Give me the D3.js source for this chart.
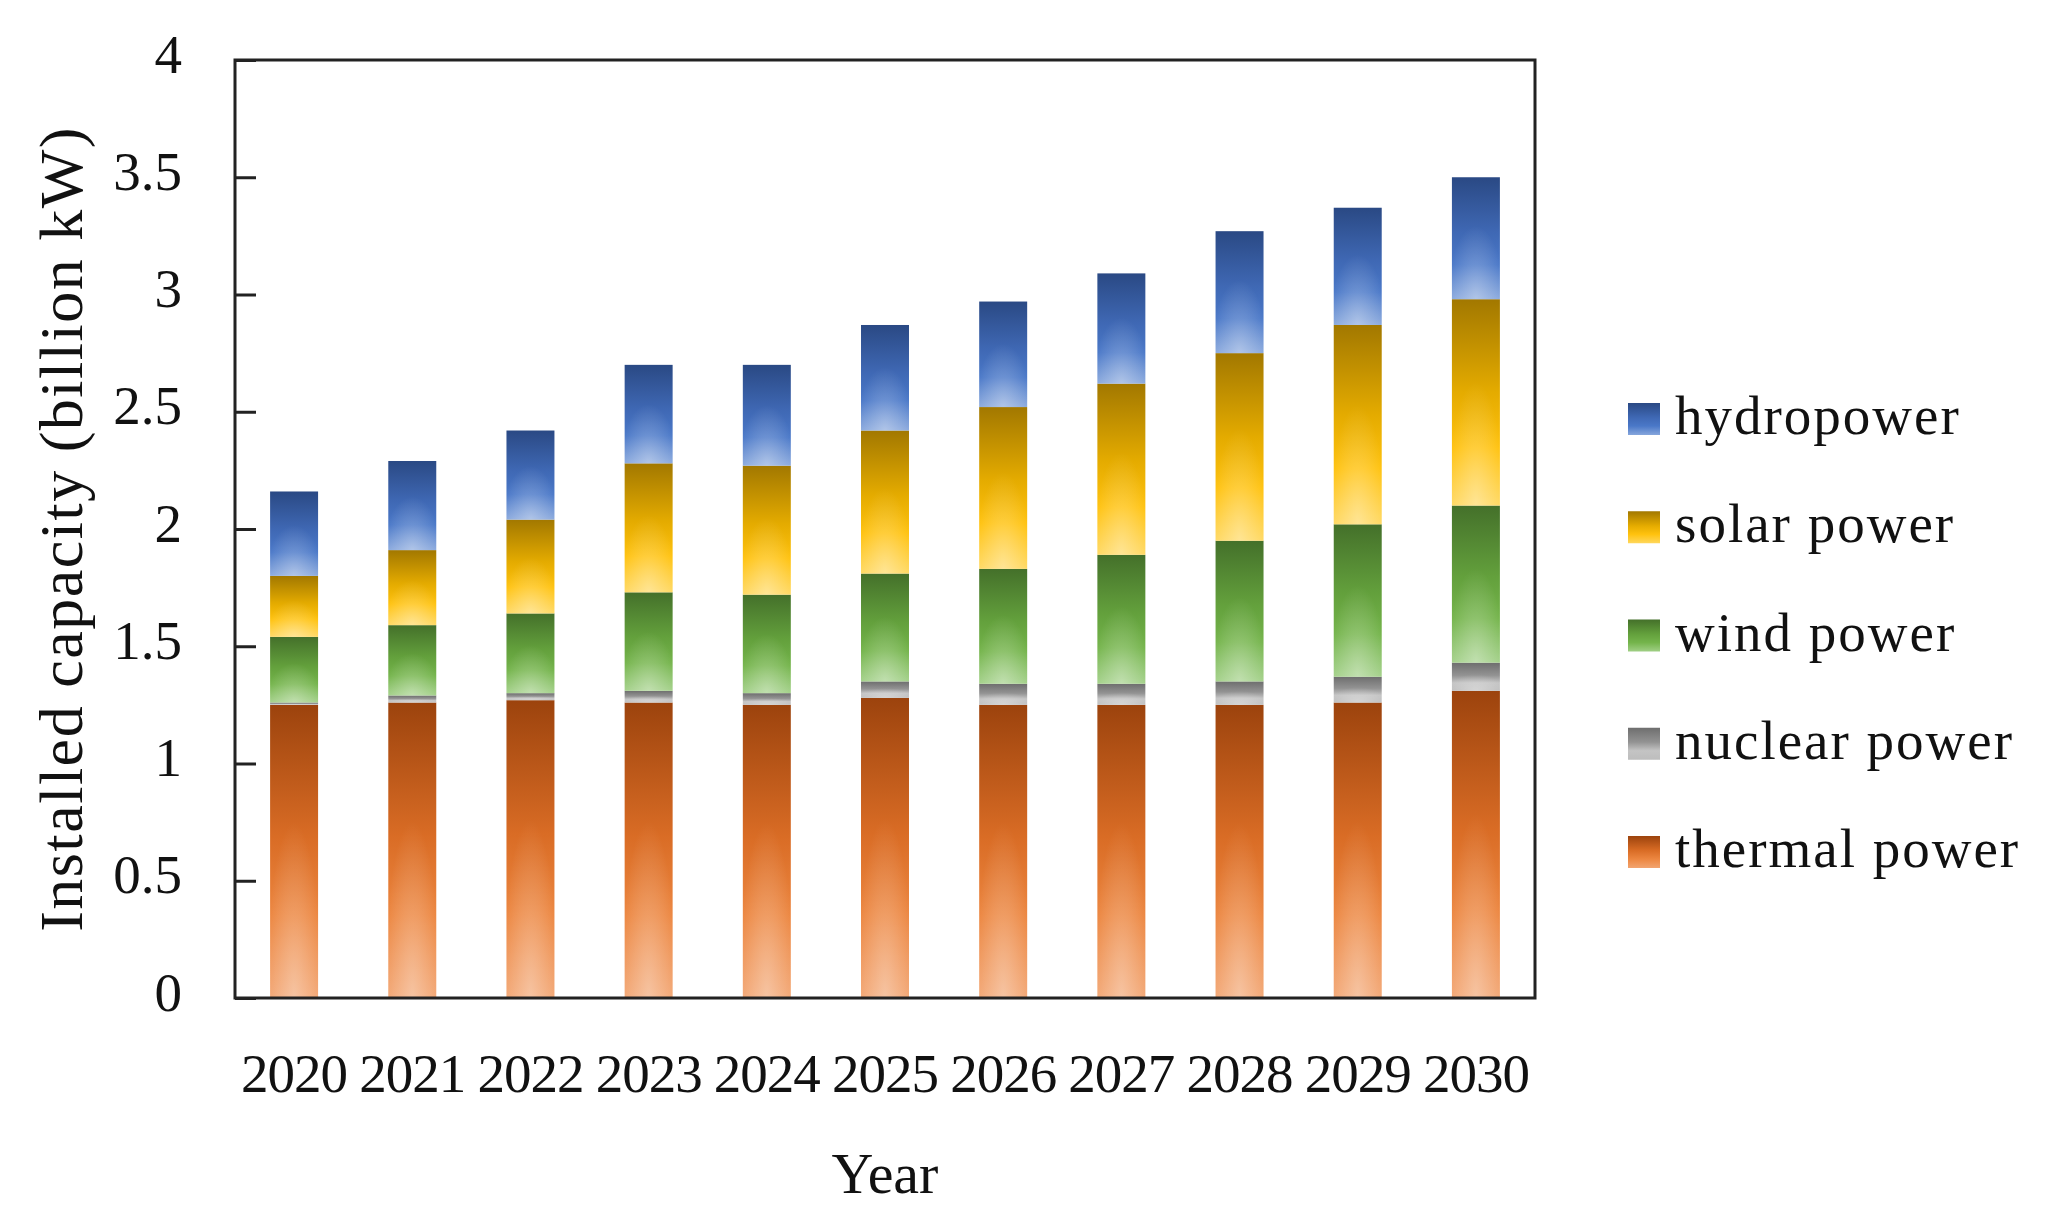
<!DOCTYPE html>
<html>
<head>
<meta charset="utf-8">
<script src="https://cdn.jsdelivr.net/npm/d3@7"></script>
<style>
  body { margin: 0; background: #fff; }
  text { font-family: "Liberation Serif", "DejaVu Serif", serif; fill: #111; }
</style>
</head>
<body>
<svg id="chart"></svg>
<script>
// values (billion kW)
const years   = ["2020", "2021", "2022", "2023", "2024", "2025", "2026", "2027", "2028", "2029", "2030"];
const thermal = [1.25, 1.26, 1.27, 1.26, 1.25, 1.28, 1.25, 1.25, 1.25, 1.26, 1.31];
const nuclear = [0.01, 0.03, 0.03, 0.05, 0.05, 0.07, 0.09, 0.09, 0.10, 0.11, 0.12];
const wind    = [0.28, 0.30, 0.34, 0.42, 0.42, 0.46, 0.49, 0.55, 0.60, 0.65, 0.67];
const solar   = [0.26, 0.32, 0.40, 0.55, 0.55, 0.61, 0.69, 0.73, 0.80, 0.85, 0.88];
const hydro   = [0.36, 0.38, 0.38, 0.42, 0.43, 0.45, 0.45, 0.47, 0.52, 0.50, 0.52];
const keys    = ["thermal", "nuclear", "wind", "solar", "hydro"];
const names   = ["thermal power", "nuclear power", "wind power", "solar power", "hydropower"];
const yTicks  = [0, 0.5, 1, 1.5, 2, 2.5, 3, 3.5, 4];

const width = 2057, height = 1227;
const plotLeft = 235, plotRight = 1535, plotTop = 60, plotBottom = 998;

// colour ramps, dark at top -> base -> light at bottom
const ramps = {
    thermal: ["#9c430d", "#d96c25", "#ec8640", "#f2a470"],
    nuclear: ["#6e6e6e", "#939393", "#c4c4c4", "#bdbdbd"],
    wind:    ["#44702a", "#63a03c", "#74b44b", "#a0cf85"],
    solar:   ["#a27800", "#e4ab00", "#ffc20e", "#ffd75c"],
    hydro:   ["#2a4984", "#3f68b4", "#4a78c8", "#86a6dc"]
};

const rows = years.map((yr, i) => ({
    year: yr, thermal: thermal[i], nuclear: nuclear[i], wind: wind[i], solar: solar[i], hydro: hydro[i]
}));
const stacked = d3.stack().keys(keys)(rows);

const svg = d3.select("#chart")
    .attr("width", width)
    .attr("height", height);

const defs = svg.append("defs");
keys.forEach(k => {
    const g = defs.append("linearGradient")
        .attr("id", "grad-" + k)
        .attr("x1", 0).attr("y1", 0).attr("x2", 0).attr("y2", 1);
    [0, 0.45, 0.72, 1].forEach((o, i) => {
        g.append("stop").attr("offset", o).attr("stop-color", ramps[k][i]);
    });
});
const glow = defs.append("radialGradient")
    .attr("id", "glow")
    .attr("cx", 0.5).attr("cy", 1).attr("r", 0.6);
glow.append("stop").attr("offset", 0).attr("stop-color", "#fff").attr("stop-opacity", 0.35);
glow.append("stop").attr("offset", 1).attr("stop-color", "#fff").attr("stop-opacity", 0);

const x = d3.scaleBand()
    .domain(years)
    .range([plotLeft, plotRight])
    .paddingInner(0.594)
    .paddingOuter(0.297);

const y = d3.scaleLinear()
    .domain([0, 4])
    .range([plotBottom, plotTop]);

// bars
const layer = svg.selectAll("g.layer")
    .data(stacked)
    .join("g")
      .attr("class", "layer");

layer.selectAll("rect.seg")
    .data(d => d.map(v => ({ key: d.key, v: v })))
    .join("rect")
      .attr("class", "seg")
      .attr("x", d => x(d.v.data.year))
      .attr("y", d => y(d.v[1]))
      .attr("width", x.bandwidth())
      .attr("height", d => y(d.v[0]) - y(d.v[1]))
      .attr("fill", d => "url(#grad-" + d.key + ")");

layer.selectAll("rect.glow")
    .data(d => d.map(v => ({ key: d.key, v: v })))
    .join("rect")
      .attr("class", "glow")
      .attr("x", d => x(d.v.data.year))
      .attr("y", d => y(d.v[1]))
      .attr("width", x.bandwidth())
      .attr("height", d => y(d.v[0]) - y(d.v[1]))
      .attr("fill", "url(#glow)");

// y axis, ticks pointing inward
const yAxis = svg.append("g")
    .attr("transform", `translate(${plotLeft},0)`)
    .call(d3.axisLeft(y).tickValues(yTicks).tickSize(-21).tickPadding(53).tickFormat(d3.format("")));
yAxis.select(".domain").remove();
yAxis.selectAll("line").attr("stroke", "#222").attr("stroke-width", 3);
yAxis.selectAll("text")
    .attr("font-size", 55)
    .attr("dy", "0.22em")
    .attr("fill", "#111");

// x axis labels
const xAxis = svg.append("g")
    .attr("transform", `translate(0,${plotBottom})`)
    .call(d3.axisBottom(x).tickSize(0).tickPadding(55));
xAxis.select(".domain").remove();
xAxis.selectAll("text")
    .attr("font-size", 55)
    .attr("letter-spacing", -1)
    .attr("dy", "0.71em")
    .attr("fill", "#111");

// frame
svg.append("rect")
    .attr("x", plotLeft).attr("y", plotTop)
    .attr("width", plotRight - plotLeft).attr("height", plotBottom - plotTop)
    .attr("fill", "none")
    .attr("stroke", "#222")
    .attr("stroke-width", 3);

// axis titles
svg.append("text")
    .attr("transform", `translate(82,${(plotTop + plotBottom) / 2}) rotate(-90)`)
    .attr("text-anchor", "middle")
    .attr("font-size", 62)
    .attr("letter-spacing", 1.5)
    .text("Installed capacity (billion kW)");

svg.append("text")
    .attr("x", (plotLeft + plotRight) / 2)
    .attr("y", 1193)
    .attr("text-anchor", "middle")
    .attr("font-size", 58)
    .text("Year");

// legend, hydropower on top
const legendY = d3.scalePoint()
    .domain(keys.slice().reverse())
    .range([419, 852]);

const legend = svg.selectAll("g.legend")
    .data(keys)
    .join("g")
      .attr("class", "legend")
      .attr("transform", k => `translate(1628,${legendY(k)})`);

legend.append("rect")
    .attr("x", 0).attr("y", -16)
    .attr("width", 32).attr("height", 32)
    .attr("fill", k => "url(#grad-" + k + ")");

legend.append("text")
    .attr("x", 47)
    .attr("y", 15)
    .attr("font-size", 55)
    .attr("letter-spacing", 2)
    .text(k => names[keys.indexOf(k)]);
</script>
</body>
</html>
